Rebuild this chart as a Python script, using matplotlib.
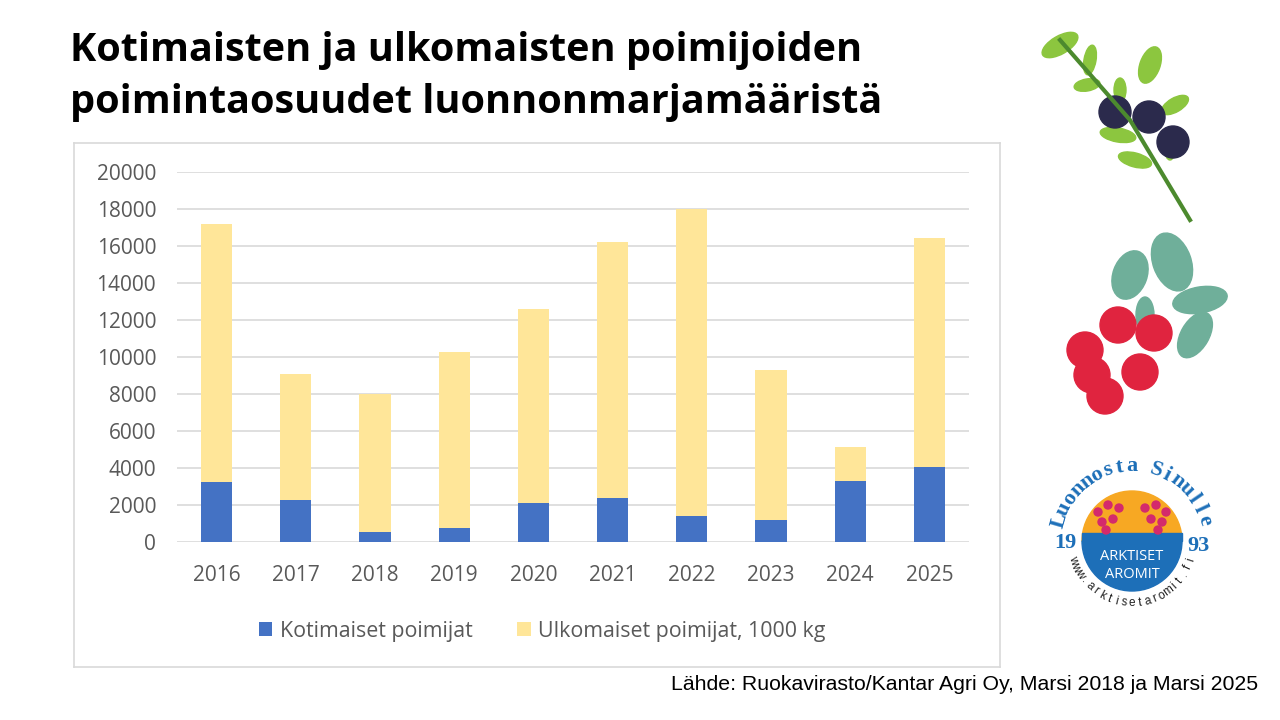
import matplotlib
matplotlib.use("Agg")
import matplotlib.pyplot as plt
from matplotlib.patches import Circle, Ellipse, Rectangle, Wedge
import numpy as np

years = ["2016", "2017", "2018", "2019", "2020", "2021", "2022", "2023", "2024", "2025"]
kotimaiset = [3240, 2280, 540, 790, 2110, 2410, 1400, 1190, 3310, 4060]
yhteensa = [17160, 9100, 8000, 10250, 12590, 16210, 17990, 9280, 5160, 16410]
ulkomaiset = [t - k for t, k in zip(yhteensa, kotimaiset)]

blue = "#4472C4"
yellow = "#FFE699"
grid_c = "#D9D9D9"
tick_c = "#595959"
font = "Open Sans"
plt.rcParams["font.family"] = [font, "DejaVu Sans"]

fig = plt.figure(figsize=(12.8, 7.2), dpi=100)

# frame of the chart area
frame = fig.add_axes([74 / 1280, 1 - 667 / 720, 926 / 1280, 524 / 720])
frame.set_xticks([])
frame.set_yticks([])
for s in frame.spines.values():
    s.set_color(grid_c)
    s.set_linewidth(1.2)
frame.set_zorder(0)

ax = fig.add_axes([177 / 1280, 1 - 542.3 / 720, 792 / 1280, 370.6 / 720])
ax.set_zorder(1)
ax.patch.set_alpha(0)
x = np.arange(len(years))
ax.bar(x, kotimaiset, width=0.395, color=blue, label="Kotimaiset poimijat", zorder=3)
ax.bar(x, ulkomaiset, width=0.395, bottom=kotimaiset, color=yellow,
       label="Ulkomaiset poimijat, 1000 kg", zorder=3)
ax.set_xlim(-0.5, len(years) - 0.5)
ax.set_ylim(0, 20000)
ax.set_yticks(range(0, 20001, 2000))
ax.set_xticks(x)
ax.set_xticklabels(years)
ax.yaxis.grid(True, color=grid_c, linewidth=1.2, zorder=0)
ax.tick_params(length=0, labelsize=15, colors=tick_c)
ax.tick_params(axis="x", pad=16)
ax.tick_params(axis="y", pad=15)
for s in ax.spines.values():
    s.set_visible(False)

leg = ax.legend(loc="upper center", bbox_to_anchor=(0.461, -0.16), ncol=2, frameon=False,
                prop={"size": 15.4}, handlelength=0.62, handleheight=0.62,
                handletextpad=0.35, columnspacing=2.1)
for t in leg.get_texts():
    t.set_color(tick_c)

fig.text(70 / 1280, 1 - 50 / 720, "Kotimaisten ja ulkomaisten poimijoiden",
         fontsize=28.5, fontweight="bold", va="center", ha="left")
fig.text(70 / 1280, 1 - 103 / 720, "poimintaosuudet luonnonmarjamääristä",
         fontsize=28.5, fontweight="bold", va="center", ha="left")
fig.text(1258 / 1280, 1 - 685 / 720,
         "Lähde: Ruokavirasto/Kantar Agri Oy, Marsi 2018 ja Marsi 2025",
         fontsize=15.3, family="Liberation Sans", ha="right", va="center")

# decorative pictures on the right, drawn in pixel coordinates
deco = fig.add_axes([0, 0, 1, 1])
deco.set_xlim(0, 1280)
deco.set_ylim(720, 0)
deco.axis("off")
deco.set_zorder(2)

# blueberry sprig
deco.plot([1060, 1130, 1190], [40, 120, 220], color="#4C8A2E", lw=3)
for cx, cy, w, h, a in [(1060, 45, 40, 18, -30), (1090, 60, 12, 30, 10), (1150, 65, 20, 38, 20),
                        (1087, 85, 26, 12, -10), (1120, 90, 12, 24, 0), (1175, 105, 30, 14, -30),
                        (1118, 135, 36, 14, 10), (1135, 160, 34, 14, 15), (1170, 150, 10, 20, 0)]:
    deco.add_patch(Ellipse((cx, cy), w, h, angle=a, color="#8CC63F"))
for cx, cy in [(1115, 112), (1149, 117), (1173, 142)]:
    deco.add_patch(Circle((cx, cy), 16, color="#2B2A4C"))

# lingonberries
for cx, cy, w, h, a in [(1130, 275, 34, 50, 20), (1172, 262, 38, 60, -20), (1200, 300, 55, 26, -10),
                        (1195, 335, 28, 50, 30), (1145, 315, 18, 36, 0)]:
    deco.add_patch(Ellipse((cx, cy), w, h, angle=a, color="#6FAF9A"))
for cx, cy in [(1118, 325), (1154, 333), (1085, 350), (1092, 375), (1140, 372), (1105, 396)]:
    deco.add_patch(Circle((cx, cy), 18, color="#E0243F"))

# logo
lx, ly, r = 1132, 541, 50
deco.add_patch(Wedge((lx, ly), r, 180, 360, color="#F7A823"))
deco.add_patch(Wedge((lx, ly), r, 0, 180, color="#1D6FB8"))
deco.add_patch(Rectangle((lx - r, ly - 8), 2 * r, 8, color="#1D6FB8"))
for cx, cy in [(1098, 512), (1108, 505), (1119, 508), (1102, 522), (1113, 519), (1106, 530),
               (1145, 508), (1156, 505), (1166, 512), (1151, 519), (1162, 522), (1158, 530)]:
    deco.add_patch(Circle((cx, cy), 4, color="#D42A6C"))
deco.text(lx, 556, "ARKTISET", color="white", fontsize=10.5, ha="center", va="center")
deco.text(lx, 575, "AROMIT", color="white", fontsize=10.5, ha="center", va="center")
deco.text(1065, 543, "19", color="#1D6FB8", fontsize=16, fontweight="bold", ha="center",
          va="center", family="Liberation Serif")
deco.text(1198, 546, "93", color="#1D6FB8", fontsize=16, fontweight="bold", ha="center",
          va="center", family="Liberation Serif")


def arc_text(txt, radius, a0, a1, size, color, family, weight, top):
    angles = np.linspace(a0, a1, len(txt))
    for ch, a in zip(txt, angles):
        t = np.radians(a)
        px = lx + radius * np.cos(t)
        py = ly - radius * np.sin(t)
        rot = a - 90 if top else a + 90
        deco.text(px, py, ch, color=color, fontsize=size, fontweight=weight, family=family,
                  rotation=rot, ha="center", va="center", rotation_mode="anchor")


arc_text("Luonnosta Sinulle", 75, 164, 16, 16, "#1D6FB8", "Liberation Serif", "bold", True)
arc_text("www.arktisetaromit.fi", 62, 198, 342, 8.5, "#222222", "Liberation Sans", "normal", False)

fig.savefig("out.png", dpi=100)
